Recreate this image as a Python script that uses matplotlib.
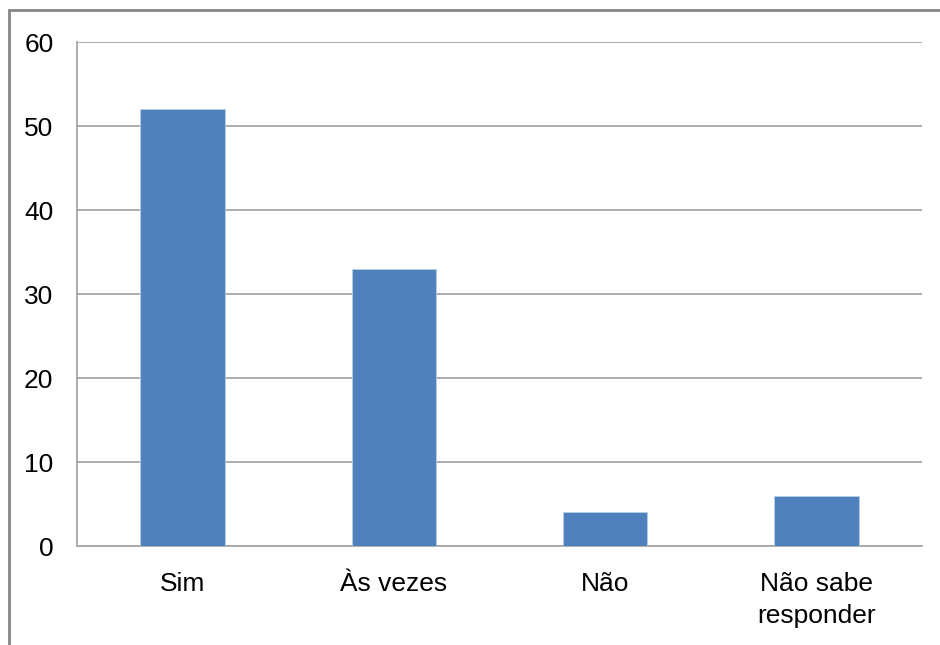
import matplotlib.pyplot as plt
from matplotlib.patches import Rectangle

plt.rcParams['font.family'] = ['Liberation Sans', 'DejaVu Sans']

categories = ['Sim', 'Às vezes', 'Não', 'Não sabe\nresponder']
values = [52, 33, 4, 6]
yticks = [0, 10, 20, 30, 40, 50, 60]

bar_color = '#4F81BD'
grid_color = '#A6A6A6'

fig = plt.figure(figsize=(9.4, 6.45), dpi=100)
ax = fig.add_axes([77 / 940, 1 - 546 / 645, (922 - 77) / 940, (546 - 42) / 645])

x = range(len(categories))
ax.bar(x, values, width=0.4, color=bar_color, edgecolor='#B9CDE5', linewidth=0.6, zorder=3)

ax.set_xlim(-0.5, len(categories) - 0.5)
ax.set_ylim(0, 60)
ax.set_yticks(yticks)
ax.set_xticks(list(x))
ax.set_xticklabels(categories, fontsize=19, linespacing=1.4)
ax.tick_params(axis='y', length=0, pad=17, labelsize=19)
ax.tick_params(axis='x', length=0, pad=19)

ax.yaxis.grid(True, color=grid_color, linewidth=1.3, zorder=0)
for side in ['top', 'right']:
    ax.spines[side].set_visible(False)
ax.spines['left'].set_color(grid_color)
ax.spines['bottom'].set_color(grid_color)
ax.spines['left'].set_linewidth(1.3)
ax.spines['bottom'].set_linewidth(1.3)

# outer chart border (cut off at right and bottom)
fig.patches.append(Rectangle((9 / 940, -0.05), 1.2, 1 - 10 / 645 + 0.05,
                             transform=fig.transFigure, fill=False,
                             edgecolor='#868686', linewidth=2))

fig.savefig('out.png', dpi=100, facecolor='white')
